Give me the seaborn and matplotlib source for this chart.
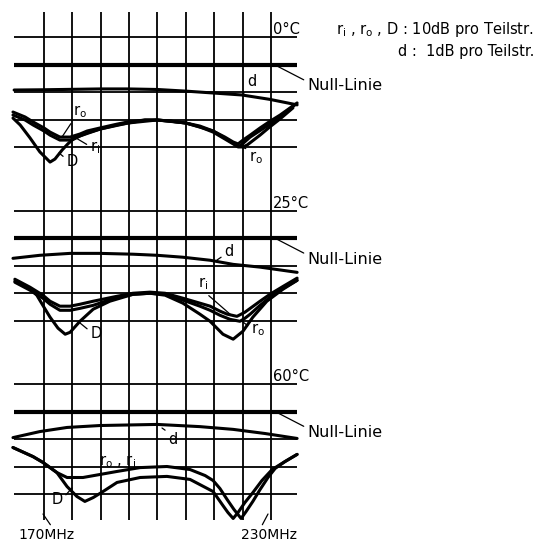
import matplotlib
matplotlib.use("Agg")
import matplotlib.pyplot as plt
import pandas as pd
import seaborn as sns

# ---------------- sheet layout ----------------
panels = ["0°C", "25°C", "60°C"]
panel_step = 6.3                      # divisions between two Null-Linien
grid_freqs = [170, 177.5, 185, 192.5, 200, 207.5, 215, 222.5, 230]
grid_rows = [1, 0, -1, -2, -3]        # divisions relative to Null-Linie
r_scale = 10.0                        # r_i, r_o, D : 10 dB per division
d_scale = 1.0                         # d : 1 dB per division

# ---------------- 0 degC ----------------
f_d_0 = [162.1, 170.0, 184.8, 192.2, 199.9, 207.5, 214.9, 222.3, 229.7, 236.9]
d_0 = [0.91, 0.90, 0.87, 0.87, 0.89, 0.95, 1.02, 1.09, 1.25, 1.45]

f_ro_0 = [161.8, 165.0, 167.1, 170.0, 171.6, 174.2, 176.9, 179.5, 181.4, 184.8, 189.3, 192.2, 196.7,
          199.9, 203.3, 207.5, 211.2, 214.7, 217.8, 220.0, 221.3, 222.6, 223.7, 227.1, 229.7, 232.4, 235.8]
ro_0 = [17.1, 18.9, 20.7, 22.9, 24.4, 26.2, 26.2, 25.1, 24.0, 22.9, 21.5, 20.7, 20.0,
        20.0, 20.4, 21.1, 22.5, 24.4, 26.9, 28.7, 29.8, 29.8, 29.1, 25.5, 22.5, 19.6, 15.6]

f_ri_0 = [161.8, 165.0, 167.1, 170.0, 171.6, 174.2, 176.9, 179.5, 181.4, 184.8, 189.3, 192.2, 196.7,
          199.9, 203.3, 207.5, 211.2, 214.7, 217.8, 220.0, 221.3, 222.6, 224.5, 227.1, 229.7, 232.4, 236.9]
ri_0 = [18.2, 20.0, 21.8, 24.0, 25.5, 27.3, 27.3, 25.8, 24.7, 23.3, 21.8, 21.1, 20.0,
        20.0, 20.4, 21.1, 22.2, 24.0, 26.2, 28.0, 28.7, 27.3, 25.5, 22.9, 20.5, 18.2, 13.8]

f_D_0 = [161.8, 163.7, 166.3, 168.9, 171.6, 172.9, 174.8, 176.3, 177.4, 179.5, 184.8, 192.2, 199.9,
         207.5, 214.7, 220.0, 221.8, 224.5, 229.7, 236.3]
D_0 = [19.3, 21.8, 26.5, 31.6, 35.3, 34.2, 30.9, 28.7, 27.3, 25.8, 23.3, 21.1, 20.0,
       21.1, 24.0, 28.4, 29.5, 26.2, 21.5, 14.5]

# ---------------- 25 degC ----------------
f_d_1 = [161.8, 168.9, 176.9, 184.8, 193.5, 199.9, 206.7, 213.9, 220.0, 227.1, 236.9]
d_1 = [0.73, 0.62, 0.55, 0.55, 0.58, 0.62, 0.69, 0.80, 0.95, 1.05, 1.24]

f_ri_1 = [162.3, 166.3, 169.7, 171.6, 174.2, 176.9, 179.5, 183.0, 189.3, 193.5, 198.0, 202.0,
          206.7, 211.2, 213.9, 216.5, 218.4, 221.0, 223.1, 224.5, 227.1, 229.7, 233.2, 236.9]
ri_1 = [14.9, 17.8, 20.7, 22.9, 24.7, 24.7, 24.0, 22.9, 21.1, 20.0, 19.6, 20.0,
        21.8, 23.6, 24.7, 26.5, 27.6, 28.4, 26.9, 25.5, 22.9, 20.4, 17.5, 14.5]

f_ro_1 = [162.3, 166.3, 169.7, 171.6, 174.2, 176.9, 179.5, 183.0, 189.3, 193.5, 198.0, 202.0,
          206.7, 211.2, 213.9, 216.5, 219.2, 221.8, 223.1, 224.5, 227.1, 229.7, 233.2, 236.9]
ro_1 = [16.0, 18.9, 21.8, 24.0, 26.2, 26.2, 25.5, 24.4, 21.5, 20.4, 20.0, 20.4,
        22.5, 24.7, 26.2, 28.0, 29.5, 30.2, 29.1, 27.6, 24.4, 21.5, 18.2, 15.3]

f_D_1 = [162.3, 166.3, 168.1, 170.0, 171.6, 173.7, 175.6, 176.9, 179.5, 183.0, 187.4, 193.5,
         198.0, 202.0, 206.7, 211.2, 213.9, 217.3, 220.0, 222.6, 225.2, 228.9, 233.2, 236.9]
D_1 = [15.6, 18.5, 20.7, 25.1, 28.7, 32.7, 34.9, 34.2, 30.2, 25.8, 22.9, 20.4,
       20.0, 20.7, 23.6, 27.6, 30.2, 34.9, 36.7, 33.8, 28.7, 22.9, 18.5, 15.3]

# ---------------- 60 degC ----------------
f_d_2 = [161.8, 168.9, 176.1, 184.8, 199.9, 211.2, 220.0, 228.4, 236.9]
d_2 = [0.95, 0.73, 0.58, 0.51, 0.47, 0.55, 0.65, 0.80, 0.98]

f_r_2 = [161.8, 167.1, 169.7, 173.4, 176.1, 180.3, 184.8, 189.3, 195.4, 202.5, 208.6, 212.6,
         214.7, 216.5, 218.4, 220.2, 222.1, 223.4, 225.2, 227.1, 229.2, 231.1, 233.7, 236.9]
r_2 = [13.1, 16.4, 18.5, 22.2, 24.0, 24.0, 22.9, 21.8, 20.4, 20.0, 21.1, 23.3,
       25.1, 28.0, 32.0, 35.6, 38.9, 36.4, 32.7, 28.4, 24.0, 20.7, 18.2, 15.6]

f_D_2 = [161.8, 167.1, 169.7, 173.4, 176.1, 178.7, 180.8, 183.0, 185.6, 189.3, 195.4, 202.5,
         208.6, 214.7, 217.3, 218.6, 220.0, 221.3, 223.1, 225.2, 227.6, 230.3, 233.7, 236.9]
D_2 = [13.1, 16.4, 18.5, 22.2, 27.3, 30.9, 32.7, 31.3, 29.1, 25.8, 24.0, 23.6,
       24.7, 29.1, 34.2, 36.7, 38.9, 36.7, 33.1, 29.5, 25.1, 21.1, 18.2, 15.6]


def build_frame():
    curves = [
        (0, "d", f_d_0, d_0, d_scale), (0, "ro", f_ro_0, ro_0, r_scale),
        (0, "ri", f_ri_0, ri_0, r_scale), (0, "D", f_D_0, D_0, r_scale),
        (1, "d", f_d_1, d_1, d_scale), (1, "ro", f_ro_1, ro_1, r_scale),
        (1, "ri", f_ri_1, ri_1, r_scale), (1, "D", f_D_1, D_1, r_scale),
        (2, "d", f_d_2, d_2, d_scale), (2, "r", f_r_2, r_2, r_scale),
        (2, "D", f_D_2, D_2, r_scale),
    ]
    rows = []
    for panel, name, freqs, values, scale in curves:
        for f, v in zip(freqs, values):
            rows.append({"panel": panel, "curve": f"{panel}_{name}", "freq": f,
                         "pos": -panel * panel_step - v / scale})
    return pd.DataFrame(rows)


def fx(px):
    # sheet pixel column -> MHz (label placement only)
    return 170 + (px - 44) * 7.5 / 28.375


def fy(py):
    # sheet pixel row -> divisions (label placement only)
    return -(py - 65) / 27.5


sns.set_theme(style="white")
plt.rcParams["font.family"] = ["DejaVu Sans"]
plt.rcParams["mathtext.default"] = "regular"
plt.rcParams["text.color"] = "black"

fig = plt.figure(figsize=(5.36, 5.42), dpi=100)
ax = fig.add_axes([0, 0, 1, 1])
ax.set_xlim(fx(0), fx(536))
ax.set_ylim(fy(542), fy(0))
ax.axis("off")

# grid
ax.vlines(grid_freqs, fy(520), fy(12), color="black", lw=1.3)
for k in range(len(panels)):
    base = -k * panel_step
    for row in grid_rows:
        ax.hlines(base + row, fx(14), fx(297), color="black",
                  lw=3.0 if row == 0 else 1.3)

# curves
df = build_frame()
sns.lineplot(data=df, x="freq", y="pos", units="curve", estimator=None, sort=False,
             color="black", lw=2.2, ax=ax, legend=False)

fs = 10.5
leader = dict(arrowstyle="-", lw=0.9, color="black", shrinkA=0, shrinkB=0)


def label(text, tx, ty, px, py, rel=(0, 0.5), ha="center", size=fs):
    ax.annotate(text, xy=(fx(px), fy(py)), xytext=(fx(tx), fy(ty)), ha=ha, va="center",
                fontsize=size, color="black", arrowprops=dict(leader, relpos=rel))


# panel titles
for k, t in enumerate(panels):
    ax.text(fx(273), fy(30) - k * panel_step, t, fontsize=10.5, ha="left", va="center",
            color="black")

# scale note
ax.text(fx(534), fy(30), r"r$_{i}$ , r$_{o}$ , D : 10dB pro Teilstr.", fontsize=10.5,
        ha="right", va="center", color="black")
ax.text(fx(534), fy(52), "d :  1dB pro Teilstr.", fontsize=10.5, ha="right", va="center",
        color="black")

# Null-Linie
for k in range(len(panels)):
    off = k * panel_step * 27.5
    ax.annotate("Null-Linie", xy=(fx(277), fy(66 + off)), xytext=(fx(307), fy(86 + off)),
                ha="left", va="center", fontsize=11.5, color="black",
                arrowprops=dict(leader, relpos=(0, 0.8)))

# curve names, 0 degC
label("d", 252, 82, 243, 94, rel=(0, 0))
label("r$_{o}$", 80, 112, 62, 137, rel=(0, 0))
label("r$_{i}$", 95, 148, 76, 138, rel=(0, 0.6))
label("D", 72, 162, 59, 153, rel=(0, 0.7))
label("r$_{o}$", 256, 158, 241, 147, rel=(0, 1))

# curve names, 25 degC
label("d", 229, 252, 217, 260, rel=(0, 0.3))
label("r$_{i}$", 203, 284, 231, 315, rel=(0.7, 0))
label("r$_{o}$", 258, 330, 243, 322, rel=(0, 0.6))
label("D", 96, 333, 80, 323, rel=(0, 0.6))

# curve names, 60 degC
label("d", 173, 440, 162, 428, rel=(0, 1))
label("r$_{o}$ , r$_{i}$", 117, 462, 103, 474, rel=(0.1, 0))
label("D", 57, 500, 72, 488, rel=(1, 0.6))

# frequency marks
label("170MHz", 47, 535, 43, 514, rel=(0.6, 1), size=10)
label("230MHz", 269, 535, 268, 514, rel=(0.35, 1), size=10)

fig.savefig("out.png", dpi=100, facecolor="white")
